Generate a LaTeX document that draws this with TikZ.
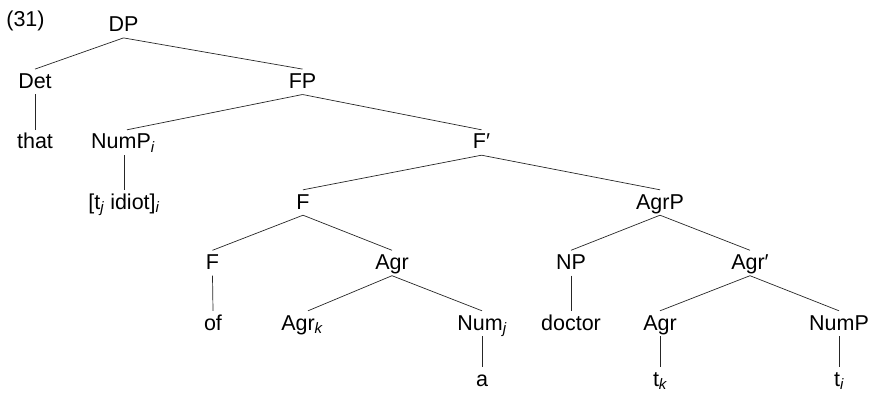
\documentclass[tikz,border=0pt]{standalone}
\usepackage{fontspec}
\setmainfont{Liberation Sans}
\newcommand{\lsub}[1]{\textsubscript{\itshape #1}}
\begin{document}
\begin{tikzpicture}[x=1pt,y=-1pt,
  lab/.style={anchor=base, inner xsep=0pt, inner ysep=3.5pt, text height=15.5pt, text depth=2.5pt, font=\fontsize{21.5}{25}\selectfont},
  leaf/.style={lab, text depth=0pt},
  br/.style={line width=0.7pt, black!85}]
\useasboundingbox (0,0) rectangle (870,393);
\node[lab] (ex) at (25.5,27) {(31)};
\node[lab] (dp) at (123.5,31.7) {DP};
\node[lab] (det) at (35,88.3) {Det};
\node[lab] (fp) at (302.5,88.3) {FP};
\node[lab] (that) at (35,149) {that};
\node[lab] (numpi) at (123,149) {NumP\lsub{i}};
\node[lab] (fbar) at (481.5,149) {F′};
\node[lab] (idiot) at (124,209) {[t\lsub{j} idiot]\lsub{i}};
\node[lab] (f) at (303,209) {F};
\node[lab] (agrp) at (660,209) {AgrP};
\node[lab] (f2) at (212.5,269.5) {F};
\node[lab] (agr) at (392,269.5) {Agr};
\node[lab] (np) at (571,269.5) {NP};
\node[lab] (agrbar) at (750,269.5) {Agr′};
\node[lab] (of) at (213,330) {of};
\node[lab] (agrk) at (302,330) {Agr\lsub{k}};
\node[lab] (numj) at (482,330) {Num\lsub{j}};
\node[lab] (doctor) at (571,330) {doctor};
\node[lab] (agr2) at (660,330) {Agr};
\node[lab] (nump) at (839,330) {NumP};
\node[leaf] (a) at (482,386) {a};
\node[leaf] (tk) at (660,386) {t\lsub{k}};
\node[leaf] (ti) at (839,386) {t\lsub{i}};
\draw[br] (dp.south) -- (det.north);
\draw[br] (dp.south) -- (fp.north);
\draw[br] (det.south) -- (that.north);
\draw[br] (fp.south) -- ([xshift=4pt]numpi.north);
\draw[br] (fp.south) -- (fbar.north);
\draw[br] ([xshift=1pt]numpi.south) -- (idiot.north);
\draw[br] (fbar.south) -- (f.north);
\draw[br] (fbar.south) -- (agrp.north);
\draw[br] (f.south) -- (f2.north);
\draw[br] (f.south) -- (agr.north);
\draw[br] (f2.south) -- (of.north);
\draw[br] (agr.south) -- ([xshift=6pt]agrk.north);
\draw[br] (agr.south) -- (numj.north);
\draw[br] (numj.south) -- (a.north);
\draw[br] (agrp.south) -- (np.north);
\draw[br] (agrp.south) -- (agrbar.north);
\draw[br] (np.south) -- (doctor.north);
\draw[br] (agrbar.south) -- (agr2.north);
\draw[br] (agrbar.south) -- (nump.north);
\draw[br] (agr2.south) -- (tk.north);
\draw[br] (nump.south) -- (ti.north);
\end{tikzpicture}
\end{document}
